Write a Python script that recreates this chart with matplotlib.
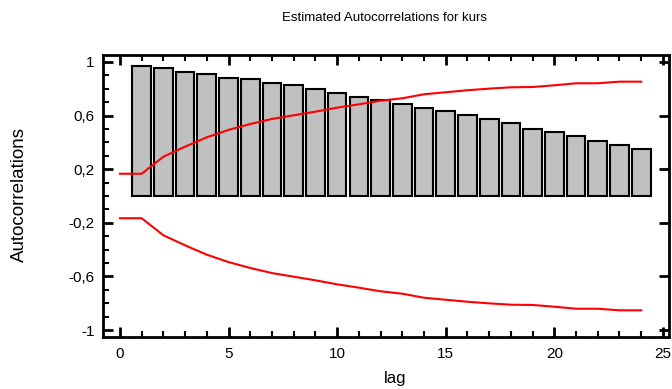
import matplotlib
matplotlib.use("Agg")
import matplotlib.pyplot as plt
from matplotlib.ticker import MultipleLocator, FuncFormatter

lags = list(range(1, 25))
acf = [0.970, 0.953, 0.925, 0.913, 0.883, 0.871, 0.841, 0.828, 0.799, 0.771,
       0.741, 0.714, 0.687, 0.659, 0.632, 0.602, 0.575, 0.547, 0.502, 0.478,
       0.448, 0.408, 0.378, 0.351]
limit_lags = list(range(0, 25))
upper = [0.166, 0.166, 0.293, 0.368, 0.438, 0.493, 0.537, 0.575, 0.602, 0.629,
         0.659, 0.684, 0.711, 0.729, 0.759, 0.774, 0.789, 0.801, 0.811, 0.813,
         0.826, 0.841, 0.841, 0.853, 0.853]
lower = [-u for u in upper]

plt.rcParams['font.family'] = ['Liberation Sans', 'DejaVu Sans']

fig = plt.figure(figsize=(6.72, 3.89), dpi=100)
ax = fig.add_axes([103/672, 1-337/389, (669-103)/672, (337-55)/389])

ax.bar(lags, acf, width=0.86, color='#C0C0C0', edgecolor='black', linewidth=1.5, zorder=2)
ax.plot(limit_lags, upper, color='red', linewidth=1.5, zorder=3)
ax.plot(limit_lags, lower, color='red', linewidth=1.5, zorder=3)

ax.set_xlim(-0.78, 25.28)
ax.set_ylim(-1.052, 1.052)
ax.xaxis.set_major_locator(MultipleLocator(5))
ax.xaxis.set_minor_locator(MultipleLocator(1))
ax.set_yticks([-1, -0.6, -0.2, 0.2, 0.6, 1])
ax.yaxis.set_minor_locator(MultipleLocator(0.1))

def yfmt(v, pos):
    s = ('%.1f' % v).rstrip('0').rstrip('.')
    if s in ('1', '-1'):
        return s
    return s.replace('.', ',')
ax.yaxis.set_major_formatter(FuncFormatter(yfmt))

for sp in ax.spines.values():
    sp.set_linewidth(2)
ax.tick_params(which='major', direction='in', length=7, width=2, top=True, right=True,
               labelsize=11)
ax.tick_params(axis='x', which='major', pad=7)
ax.tick_params(axis='y', which='major', pad=6)
ax.tick_params(which='minor', direction='in', length=4, width=1.5, top=True, right=False)

fig.text(384/672, 1-18/389, 'Estimated Autocorrelations for kurs', ha='center', va='center',
         fontsize=9.5, family=['Liberation Sans Narrow', 'Liberation Sans'])
fig.text(395/672, 1-379/389, 'lag', ha='center', va='center', fontsize=12)
fig.text(19/672, 1-194/389, 'Autocorrelations', ha='center', va='center',
         rotation=90, fontsize=13.5)

fig.savefig('out.png', dpi=100)
